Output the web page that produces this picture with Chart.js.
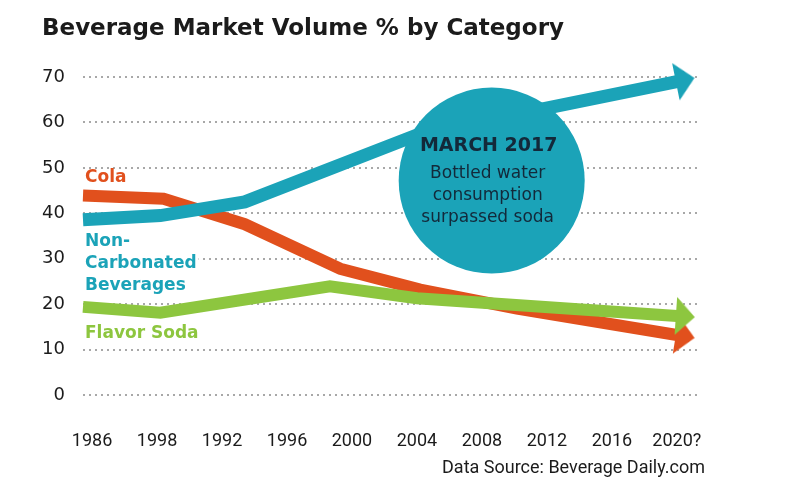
<!DOCTYPE html>
<html>
<head>
<meta charset="utf-8">
<script src="https://cdn.jsdelivr.net/npm/chart.js@4.4.0/dist/chart.umd.min.js"></script>
<style>
  html, body { margin: 0; padding: 0; background: #fff; }
  #wrap { width: 785px; height: 502px; position: relative; }
</style>
</head>
<body>
<div id="wrap"><canvas id="bChart"></canvas></div>
<script>
const xLabels = ['1986', '1998', '1992', '1996', '2000', '2004', '2008', '2012', '2016', '2020?'];

// [position along the label axis (0 = first label), volume %]
const nonCarbonated = [[-0.14, 38.6], [1.05, 39.5], [2.35, 42.5], [5.05, 57.5], [9, 69]];
const cola          = [[-0.14, 43.9], [1.1, 43.2], [2.35, 37.6], [3.82, 27.8], [5.05, 23.2], [6.54, 19], [9, 13.2]];
const flavorSoda    = [[-0.14, 19.4], [1.05, 18.1], [3.66, 23.9], [5.0, 21.3], [9, 17.4]];

const noteAt    = [6.15, 47.2];   // centre of the "March 2017" bubble
const noteLines = ['MARCH 2017', 'Bottled water', 'consumption', 'surpassed soda'];
const sourceText = 'Data Source: Beverage Daily.com';

const TEAL = '#1ba3b8', ORANGE = '#e1501d', GREEN = '#8dc63f', INK = '#1b1b1b', NAVY = '#13293a';

function arrowHead(color) {
  const c = document.createElement('canvas');
  c.width = 40; c.height = 40;
  const g = c.getContext('2d');
  g.fillStyle = color;
  g.beginPath();
  g.moveTo(19, 1);
  g.lineTo(38, 20);
  g.lineTo(19, 39);
  g.closePath();
  g.fill();
  return c;
}

function series(label, pts, color, width, angle, order) {
  const last = pts.length - 1;
  const head = arrowHead(color);
  return {
    label, order,
    data: pts.map(p => ({ x: p[0], y: p[1] })),
    borderColor: color,
    backgroundColor: color,
    borderWidth: width,
    borderJoinStyle: 'miter',
    borderCapStyle: 'butt',
    tension: 0,
    clip: false,
    pointStyle: ctx => ctx.dataIndex === last ? head : 'circle',
    pointRadius: ctx => ctx.dataIndex === last ? 10 : 0,
    pointRotation: ctx => ctx.dataIndex === last ? angle : 0,
    pointBorderWidth: 0,
  };
}

/* ───────── text that sits on the plot ───────── */

const sideLabels = [
  { lines: ['Cola'], at: [47.9], color: ORANGE },
  { lines: ['Non-', 'Carbonated', 'Beverages'], at: [33.8, 29.0, 24.1], color: TEAL },
  { lines: ['Flavor Soda'], at: [13.6], color: GREEN },
];

const notes = {
  id: 'notes',
  afterDraw(chart) {
    const { ctx, chartArea, scales: { y } } = chart;
    ctx.save();
    ctx.textBaseline = 'middle';

    ctx.textAlign = 'left';
    ctx.font = 'bold 17px "DejaVu Sans"';
    sideLabels.forEach(s => {
      s.lines.forEach((t, i) => {
        const tx = chartArea.left + 2, ty = y.getPixelForValue(s.at[i]);
        ctx.fillStyle = '#fff';           // knock the dotted grid out behind the text
        ctx.fillRect(tx - 2, ty - 7, ctx.measureText(t).width + 4, 14);
        ctx.fillStyle = s.color;
        ctx.fillText(t, tx, ty);
      });
    });

    const b = chart.getDatasetMeta(3).data[0];
    ctx.textAlign = 'center';
    ctx.fillStyle = NAVY;
    ctx.font = 'bold 19px "DejaVu Sans"';
    ctx.fillText(noteLines[0], b.x - 3, b.y - 35);
    ctx.font = '17px "DejaVu Sans"';
    ctx.fillText(noteLines[1], b.x - 4, b.y - 7);
    ctx.fillText(noteLines[2], b.x - 4, b.y + 15);
    ctx.fillText(noteLines[3], b.x - 4, b.y + 37);

    ctx.textAlign = 'right';
    ctx.fillStyle = INK;
    ctx.font = '18px Roboto';
    ctx.fillText(sourceText, 705, 468);
    ctx.restore();
  }
};

new Chart(document.getElementById('bChart'), {
  type: 'line',
  data: {
    datasets: [
      series('Non-Carbonated Beverages', nonCarbonated, TEAL, 13, -11.4, 0),
      series('Flavor Soda', flavorSoda, GREEN, 12, 3.9, 1),
      series('Cola', cola, ORANGE, 12, 9.3, 2),
      {
        type: 'bubble',
        label: 'note',
        order: -1,
        data: [{ x: noteAt[0], y: noteAt[1], r: 93 }],
        backgroundColor: TEAL,
        borderWidth: 0,
        clip: false,
      },
    ]
  },
  options: {
    responsive: true,
    maintainAspectRatio: false,
    devicePixelRatio: 1,
    animation: false,
    events: [],
    layout: { autoPadding: false, padding: { left: 42, right: 88, top: 0, bottom: 51 } },
    plugins: {
      legend: { display: false },
      tooltip: { enabled: false },
      title: {
        display: true,
        text: 'Beverage Market Volume % by Category',
        align: 'start',
        color: INK,
        font: { family: 'DejaVu Sans', size: 23, weight: 'bold' },
        padding: { top: 15, bottom: 34.4 }
      }
    },
    scales: {
      x: {
        type: 'linear',
        min: -0.14,
        max: 9.31,
        afterBuildTicks: s => { s.ticks = xLabels.map((_, i) => ({ value: i })); },
        afterFit: s => { s.height = 56; },
        ticks: {
          callback: v => xLabels[v],
          autoSkip: false,
          maxRotation: 0,
          padding: 28,
          color: INK,
          font: { family: 'Roboto', size: 18 }
        },
        grid: { display: false },
        border: { display: false }
      },
      y: {
        min: 0,
        max: 70,
        afterFit: s => { s.width = 41; },
        ticks: {
          stepSize: 10,
          padding: 18,
          color: INK,
          font: { family: 'DejaVu Sans', size: 18 }
        },
        grid: { color: '#a8a8a8', lineWidth: 2, drawTicks: false },
        border: { display: false, dash: [2, 4] }
      }
    }
  },
  plugins: [notes]
});
</script>
</body>
</html>
